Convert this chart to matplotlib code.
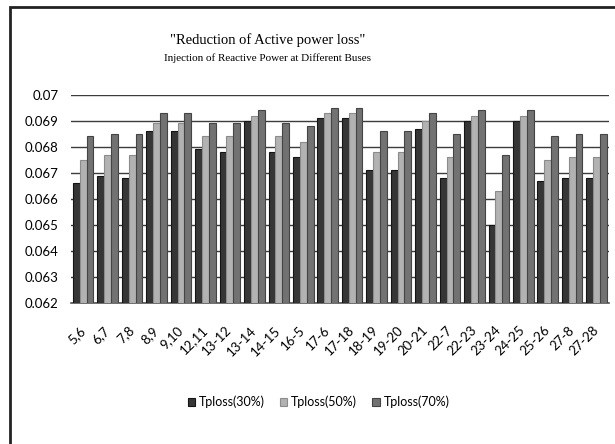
import numpy as np
from matplotlib import pyplot as plt
from matplotlib.patches import Rectangle

categories = [
    "5,6", "6,7", "7,8", "8,9", "9,10", "12,11", "13-12", "13-14", "14-15",
    "16-5", "17-6", "17-18", "18-19", "19-20", "20-21", "22-7", "22-23",
    "23-24", "24-25", "25-26", "27-8", "27-28",
]
tploss_30 = [
    0.0666, 0.0669, 0.0668, 0.0686, 0.0686, 0.0679, 0.0678, 0.0690, 0.0678,
    0.0676, 0.0691, 0.0691, 0.0671, 0.0671, 0.0687, 0.0668, 0.0690, 0.0650,
    0.0690, 0.0667, 0.0668, 0.0668,
]
tploss_50 = [
    0.0675, 0.0677, 0.0677, 0.0689, 0.0689, 0.0684, 0.0684, 0.0692, 0.0684,
    0.0682, 0.0693, 0.0693, 0.0678, 0.0678, 0.0690, 0.0676, 0.0692, 0.0663,
    0.0692, 0.0675, 0.0676, 0.0676,
]
tploss_70 = [
    0.0684, 0.0685, 0.0685, 0.0693, 0.0693, 0.0689, 0.0689, 0.0694, 0.0689,
    0.0688, 0.0695, 0.0695, 0.0686, 0.0686, 0.0693, 0.0685, 0.0694, 0.0677,
    0.0694, 0.0684, 0.0685, 0.0685,
]
series_names = ["Tploss(30%)", "Tploss(50%)", "Tploss(70%)"]
y_ticks = [0.062, 0.063, 0.064, 0.065, 0.066, 0.067, 0.068, 0.069, 0.07]
y_tick_labels = ["0.062", "0.063", "0.064", "0.065", "0.066", "0.067", "0.068", "0.069", "0.07"]

plt.rcParams["font.family"] = ["Lato", "DejaVu Sans"]

fig = plt.figure(figsize=(6.15, 4.44), dpi=100)
ax = fig.add_axes([0.1154, 0.3169, 0.8746, 0.4698])

x = np.arange(len(categories))
width = 0.28
fills = ["#363636", "#b2b2b2", "#727272"]
edges = ["#141414", "#8c8c8c", "#444444"]
for i, values in enumerate([tploss_30, tploss_50, tploss_70]):
    ax.bar(
        x + (i - 1) * width, np.array(values) - 0.062, width,
        bottom=0.062, color=fills[i], edgecolor=edges[i], linewidth=0.8,
        label=series_names[i], zorder=3,
    )

ax.set_xlim(-0.5, len(categories) - 0.5)
ax.set_ylim(0.062, 0.07)
ax.set_yticks(y_ticks)
ax.set_yticklabels(y_tick_labels, fontsize=9.5)
ax.set_xticks(x)
ax.set_xticklabels(
    categories, rotation=45, ha="right", va="center",
    rotation_mode="anchor", fontsize=9.5,
)
ax.tick_params(axis="y", length=0, pad=9)
ax.tick_params(axis="x", length=0, pad=18)

ax.grid(axis="y", color="#3c3c3c", linewidth=1.0, zorder=0)
ax.set_axisbelow(True)
for side in ["top", "right", "left"]:
    ax.spines[side].set_visible(False)
ax.spines["bottom"].set_color("#555555")
ax.spines["bottom"].set_linewidth(1.2)

fig.text(0.435, 0.91, '"Reduction of Active power loss"',
         family="Liberation Serif", fontsize=10.5, ha="center", va="center")
fig.text(0.435, 0.869, "Injection of Reactive Power at Different Buses",
         family="Liberation Serif", fontsize=8, ha="center", va="center")

fig.legend(
    loc="center", bbox_to_anchor=(0.518, 0.095), ncol=3, frameon=False,
    fontsize=9, handlelength=0.6, handleheight=0.6, handletextpad=0.3,
    columnspacing=1.2,
)

fig.add_artist(Rectangle(
    (10 / 615, -0.1), 1.2, 1.1 - 7 / 444, transform=fig.transFigure,
    fill=False, edgecolor="#222222", linewidth=2.0,
))

fig.savefig("out.png", dpi=100)
